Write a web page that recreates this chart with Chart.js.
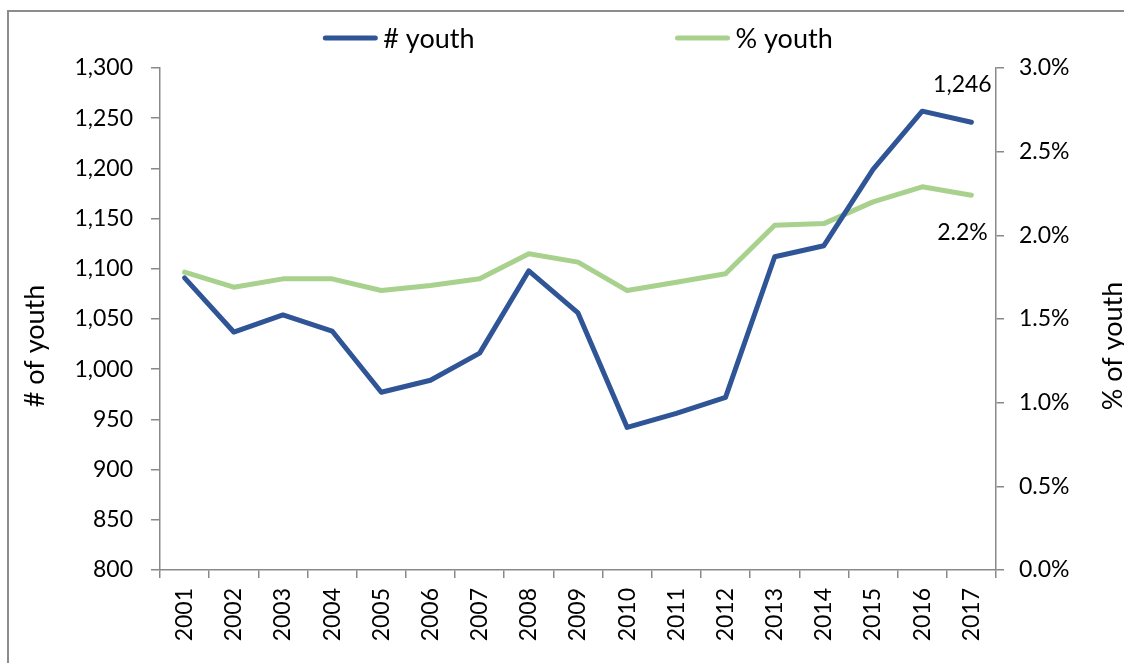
<!DOCTYPE html>
<html lang="en">
<head>
  <meta charset="UTF-8" />
  <title># youth and % youth, 2001-2017</title>
  <script src="https://cdn.jsdelivr.net/npm/chart.js"></script>
  <style>
    body {
      margin: 0;
      width: 1124px;
      height: 663px;
      overflow: hidden;
      background: #ffffff;
      position: relative;
    }

    .frame {
      position: absolute;
      left: 7px;
      top: 10px;
      width: 1300px;
      height: 800px;
      border-left: 2px solid #8c8c8c;
      border-top: 2px solid #8c8c8c;
      box-sizing: border-box;
    }

    canvas {
      position: absolute;
      left: 0;
      top: 0;
    }
  </style>
</head>
<body>
  <div class="frame"></div>
  <canvas id="youthChart" width="1140" height="663"></canvas>

  <script>
    const years = ['2001', '2002', '2003', '2004', '2005', '2006', '2007', '2008', '2009',
                   '2010', '2011', '2012', '2013', '2014', '2015', '2016', '2017'];
    const youthCount = [1091, 1037, 1054, 1038, 977, 989, 1016, 1098, 1056,
                        942, 956, 972, 1112, 1123, 1199, 1257, 1246];
    const youthPct = [1.78, 1.69, 1.74, 1.74, 1.67, 1.70, 1.74, 1.89, 1.84,
                      1.67, 1.72, 1.77, 2.06, 2.07, 2.20, 2.29, 2.24];
    const seriesNames = ['# youth', '% youth'];
    const countAxis = { min: 800, max: 1300, step: 50, title: '# of youth' };
    const pctAxis = { min: 0, max: 3, step: 0.5, title: '% of youth' };

    const blue = '#2f5597';
    const green = '#a9d18e';
    const axisGrey = '#898989';
    const fontFamily = 'Lato, "Open Sans", sans-serif';

    // legend drawn by hand: Excel puts a short line, a tiny gap, and a wide space between entries
    const lineLegend = {
      id: 'lineLegend',
      afterDraw(chart) {
        const ctx = chart.ctx;
        const ca = chart.chartArea;
        const colors = [blue, green];
        const sample = 54, gap = 6, between = 201;
        ctx.save();
        ctx.font = '27px ' + fontFamily;
        const widths = seriesNames.map(t => ctx.measureText(t).width);
        const total = widths.reduce((a, w) => a + sample + gap + w, 0) + between;
        let x = (ca.left + ca.right) / 2 - total / 2;
        const y = ca.top - 30;
        seriesNames.forEach((name, i) => {
          ctx.strokeStyle = colors[i];
          ctx.lineWidth = 5;
          ctx.lineCap = 'round';
          ctx.beginPath();
          ctx.moveTo(x + 2, y);
          ctx.lineTo(x + sample - 2, y);
          ctx.stroke();
          ctx.fillStyle = '#000';
          ctx.textBaseline = 'middle';
          ctx.textAlign = 'left';
          ctx.fillText(name, x + sample + gap, y + 1);
          x += sample + gap + widths[i] + between;
        });
        ctx.restore();
      }
    };

    // both axis titles read bottom-to-top and sit a little below the middle, like Excel
    const axisTitles = {
      id: 'axisTitles',
      afterDraw(chart) {
        const ctx = chart.ctx;
        const ca = chart.chartArea;
        const cy = (ca.top + ca.bottom) / 2 + 27;
        const spots = [
          [chart.scales.y.left + 35, countAxis.title],
          [chart.scales.y1.left + 117, pctAxis.title]
        ];
        ctx.save();
        ctx.font = '27px ' + fontFamily;
        ctx.fillStyle = '#000';
        ctx.textAlign = 'center';
        ctx.textBaseline = 'middle';
        spots.forEach(([x, text]) => {
          ctx.save();
          ctx.translate(x, cy);
          ctx.rotate(-Math.PI / 2);
          ctx.fillText(text, 0, 0);
          ctx.restore();
        });
        ctx.restore();
      }
    };

    // value labels on the last year only
    const lastLabels = {
      id: 'lastLabels',
      afterDatasetsDraw(chart) {
        const ctx = chart.ctx;
        const last = years.length - 1;
        const p0 = chart.getDatasetMeta(0).data[last];
        const p1 = chart.getDatasetMeta(1).data[last];
        ctx.save();
        ctx.font = '23px ' + fontFamily;
        ctx.fillStyle = '#000';
        ctx.textAlign = 'center';
        ctx.textBaseline = 'middle';
        ctx.fillText(youthCount[last].toLocaleString('en-US'), p0.x - 9, p0.y - 38);
        ctx.fillText(youthPct[last].toFixed(1) + '%', p1.x - 9, p1.y + 37);
        ctx.restore();
      }
    };

    const tickFont = { family: fontFamily, size: 23 };

    function draw() {
      const ctx = document.getElementById('youthChart').getContext('2d');
      new Chart(ctx, {
        type: 'line',
        data: {
          labels: years,
          datasets: [
            {
              label: seriesNames[0],
              data: youthCount,
              yAxisID: 'y',
              borderColor: blue,
              backgroundColor: blue,
              borderWidth: 5,
              pointRadius: 0,
              borderJoinStyle: 'round',
              borderCapStyle: 'round',
              tension: 0
            },
            {
              label: seriesNames[1],
              data: youthPct,
              yAxisID: 'y1',
              borderColor: green,
              backgroundColor: green,
              borderWidth: 5,
              pointRadius: 0,
              borderJoinStyle: 'round',
              borderCapStyle: 'round',
              tension: 0
            }
          ]
        },
        options: {
          responsive: false,
          animation: false,
          devicePixelRatio: 1,
          layout: { padding: { top: 68, left: 0, right: 0, bottom: 0 } },
          plugins: {
            legend: { display: false },
            tooltip: { enabled: false }
          },
          scales: {
            x: {
              type: 'category',
              offset: true,
              grid: {
                offset: true,
                drawOnChartArea: false,
                drawTicks: true,
                tickLength: 8,
                color: axisGrey,
                lineWidth: 1.5
              },
              border: { display: true, color: axisGrey, width: 1.5 },
              ticks: {
                minRotation: 90,
                maxRotation: 90,
                autoSkip: false,
                padding: 10,
                color: '#000',
                font: tickFont
              },
              afterFit(s) { s.height = 93; }
            },
            y: {
              position: 'left',
              min: countAxis.min,
              max: countAxis.max,
              grid: {
                drawOnChartArea: false,
                tickLength: 9,
                color: axisGrey,
                lineWidth: 1.5
              },
              border: { display: true, color: axisGrey, width: 1.5 },
              ticks: {
                stepSize: countAxis.step,
                padding: 18,
                color: '#000',
                font: tickFont,
                callback: v => v.toLocaleString('en-US')
              },
              afterFit(s) { s.width = 160; }
            },
            y1: {
              position: 'right',
              min: pctAxis.min,
              max: pctAxis.max,
              grid: {
                drawOnChartArea: false,
                tickLength: 8,
                color: axisGrey,
                lineWidth: 1.5
              },
              border: { display: true, color: axisGrey, width: 1.5 },
              ticks: {
                stepSize: pctAxis.step,
                padding: 15,
                color: '#000',
                font: tickFont,
                callback: v => v.toFixed(1) + '%'
              },
              afterFit(s) { s.width = 144; }
            }
          }
        },
        plugins: [lineLegend, axisTitles, lastLabels]
      });
    }

    if (document.fonts && document.fonts.load) {
      document.fonts.load('23px Lato').then(draw, draw);
    } else {
      draw();
    }
  </script>
</body>
</html>
